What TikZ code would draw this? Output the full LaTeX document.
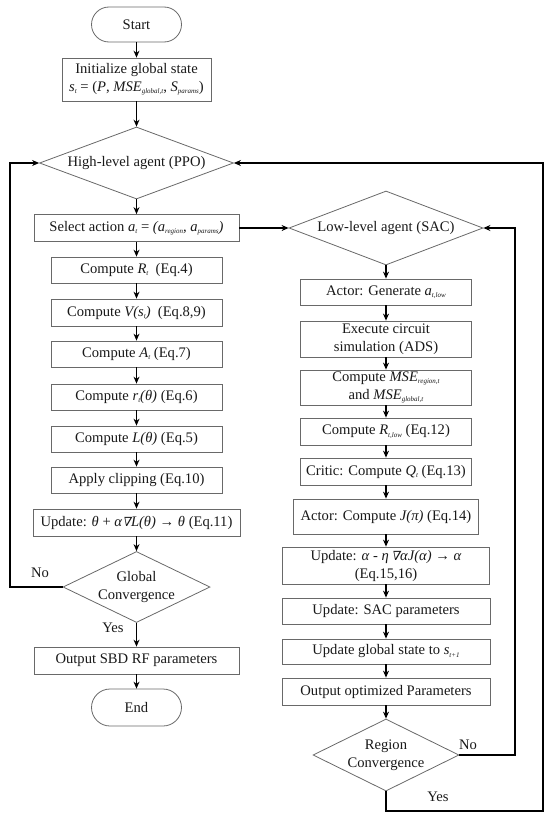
\documentclass[tikz,border=0pt]{standalone}
\usepackage{fontspec}
\setmainfont{Liberation Serif}
\newfontfamily\dvsit[FakeSlant=0.2]{DejaVu Serif}
\usetikzlibrary{shapes.geometric, arrows.meta}
\definecolor{boxgray}{RGB}{105,105,105}
\definecolor{txt}{RGB}{25,25,25}
\newcommand\sbs[1]{\raisebox{-0.35ex}{\fontsize{7}{8}\selectfont\itshape #1}}
\newcommand\nab{{\dvsit\fontsize{12.5}{14}\selectfont ∇}}
\tikzset{
  box/.style={draw=boxgray, line width=0.8pt, fill=white, inner sep=0pt, align=center,
    text=txt, font=\fontsize{14.6}{18}\selectfont},
  term/.style={box, rounded corners=17.5pt},
  dia/.style={diamond, draw=boxgray, line width=0.8pt, fill=white, inner sep=0pt},
  dlab/.style={align=center, text=txt, font=\fontsize{14.6}{18}\selectfont},
  lbl/.style={text=txt, font=\fontsize{14.6}{18}\selectfont, inner sep=0pt},
  arr/.style={-{Stealth[length=7pt,width=6pt]}, line width=1.1pt, black},
  ln/.style={line width=1.1pt, black}
}
\begin{document}
\begin{tikzpicture}[x=1pt,y=-1pt]
\useasboundingbox (0,0) rectangle (550,819);
% left column
\node[term, minimum width=90pt, minimum height=35pt] (start) at (136.5,24.5) {Start};
\node[box, minimum width=149pt, minimum height=43pt] (init) at (136.5,79.5)
  {Initialize global state\\ \textit{s}\sbs{t} = (\textit{P}, \textit{MSE}\sbs{global,t}, \textit{S}\sbs{params})};
\node[dia, minimum width=194pt, minimum height=72pt,
  label={[dlab]center:High-level agent (PPO)}] (hl) at (136.5,163) {};
\node[box, minimum width=205pt, minimum height=27pt] (sel) at (136.5,228)
  {Select action \textit{a}\sbs{t} = \textit{(a}\sbs{region}\textit{, a}\sbs{params}\textit{)}};
\node[box, minimum width=171pt, minimum height=26pt] (rt) at (136.5,270)
  {Compute \textit{R}\sbs{t}~ (Eq.4)};
\node[box, minimum width=171pt, minimum height=27pt] (vs) at (136.5,312.5)
  {Compute \textit{V(s}\sbs{t}\textit{)}~ (Eq.8,9)};
\node[box, minimum width=171pt, minimum height=26pt] (at) at (136.5,354)
  {Compute \textit{A}\sbs{t} (Eq.7)};
\node[box, minimum width=171pt, minimum height=26pt] (rth) at (136.5,397)
  {Compute \textit{r}\sbs{t}\textit{(θ)} (Eq.6)};
\node[box, minimum width=171pt, minimum height=26pt] (lth) at (136.5,439)
  {Compute \textit{L(θ)} (Eq.5)};
\node[box, minimum width=171pt, minimum height=26pt] (clip) at (136.5,480)
  {Apply clipping (Eq.10)};
\node[box, minimum width=207pt, minimum height=27pt] (upd) at (136.5,522.5)
  {Update: \textit{θ} + \textit{α}\nab\textit{L(θ)} → \textit{θ} (Eq.11)};
\node[dia, minimum width=147pt, minimum height=71pt,
  label={[dlab]center:Global\\Convergence}] (gc) at (136.5,587) {};
\node[box, minimum width=205pt, minimum height=27pt] (out) at (136.5,660.5)
  {Output SBD RF parameters};
\node[term, minimum width=90pt, minimum height=37pt, rounded corners=18.5pt] (end) at (136.5,707.5) {End};
% right column
\node[dia, minimum width=194pt, minimum height=74pt,
  label={[dlab]center:Low-level agent (SAC)}] (ll) at (386,228) {};
\node[box, minimum width=171pt, minimum height=26pt] (gen) at (386,292)
  {Actor: Generate \textit{a}\sbs{t,low}};
\node[box, minimum width=171pt, minimum height=36pt] (exe) at (386,339)
  {Execute circuit\\simulation (ADS)};
\node[box, minimum width=171pt, minimum height=35pt] (mse) at (386,387.5)
  {Compute \textit{MSE}\sbs{region,t}\\and \textit{MSE}\sbs{global,t}};
\node[box, minimum width=171pt, minimum height=27pt] (rlow) at (386,431.5)
  {Compute \textit{R}\sbs{t,low} (Eq.12)};
\node[box, minimum width=171pt, minimum height=27pt] (crit) at (386,471.5)
  {Critic: Compute \textit{Q}\sbs{t} (Eq.13)};
\node[box, minimum width=185pt, minimum height=35pt] (actj) at (386,516.5)
  {Actor: Compute \textit{J(π)} (Eq.14)};
\node[box, minimum width=207pt, minimum height=37pt] (upa) at (386,565.5)
  {Update: \textit{α} - \textit{η}\,\nab\textit{αJ(α)} → \textit{α}\\(Eq.15,16)};
\node[box, minimum width=208pt, minimum height=26pt] (sac) at (386,611)
  {Update: SAC parameters};
\node[box, minimum width=208pt, minimum height=25pt] (gst) at (386,651.5)
  {Update global state to \textit{s}\sbs{t+1}};
\node[box, minimum width=208pt, minimum height=27pt] (opt) at (386,691.5)
  {Output optimized Parameters};
\node[dia, minimum width=146pt, minimum height=72pt,
  label={[dlab]center:Region\\Convergence}] (rc) at (386,755) {};
% labels
\node[lbl] (no1) at (40,573) {No};
\node[lbl] (yes1) at (113,628) {Yes};
\node[lbl] (no2) at (468,745) {No};
\node[lbl] (yes2) at (438,797) {Yes};
% helper coordinates
\coordinate (c1) at (10,163);
\coordinate (c2) at (515,228);
\coordinate (c3) at (543,811);
\coordinate (c4) at (543,163);
% connectors left
\draw[arr] (start) -- (init);
\draw[arr] (init) -- (hl);
\draw[arr] (hl) -- (sel);
\draw[arr] (sel) -- (rt);
\draw[arr] (rt) -- (vs);
\draw[arr] (vs) -- (at);
\draw[arr] (at) -- (rth);
\draw[arr] (rth) -- (lth);
\draw[arr] (lth) -- (clip);
\draw[arr] (clip) -- (upd);
\draw[arr] (upd) -- (gc);
\draw[arr] (gc) -- (out);
\draw[arr] (out) -- (end);
\draw[arr] (gc.west) -| (c1) -- (hl.west);
% connectors right
\draw[arr] (sel.east) -- (ll.west);
\draw[arr] (ll) -- (gen);
\draw[arr] (gen) -- (exe);
\draw[arr] (exe) -- (mse);
\draw[arr] (mse) -- (rlow);
\draw[arr] (rlow) -- (crit);
\draw[arr] (crit) -- (actj);
\draw[arr] (actj) -- (upa);
\draw[arr] (upa) -- (sac);
\draw[arr] (sac) -- (gst);
\draw[arr] (gst) -- (opt);
\draw[arr] (opt) -- (rc);
\draw[arr] (rc.east) -| (c2) -- (ll.east);
\draw[arr] (rc.south) |- (c3) -- (c4) -- (hl.east);
\end{tikzpicture}
\end{document}
